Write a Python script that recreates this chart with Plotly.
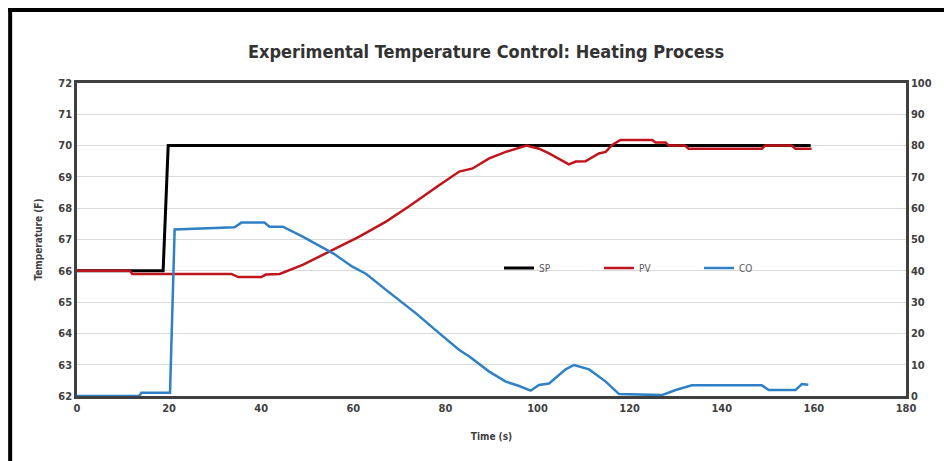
import plotly.graph_objects as go

# ---- data ----
t_sp = [0, 18.7, 19.8, 159.3]
sp = [66, 66, 70, 70]

t_pv = [0, 11.5, 12, 33.5, 35, 40, 41, 44, 49, 52.6, 56.3, 61.3, 67.1, 72.2, 78.7, 83, 85.9,
        89.5, 93.1, 96.7, 97.6, 100.3, 102.5, 106.8, 108.3, 110.4, 113.3, 114.8, 116.2, 118,
        124.9, 125.6, 127.8, 128.5, 132, 132.8, 148.7, 149.4, 155.2, 156, 159.5]
pv = [66, 66, 65.9, 65.9, 65.8, 65.8, 65.88, 65.9, 66.19, 66.45, 66.72, 67.09, 67.57, 68.07,
      68.74, 69.17, 69.27, 69.59, 69.8, 69.97, 70.0, 69.9, 69.75, 69.4, 69.49, 69.5, 69.75,
      69.8, 70.02, 70.18, 70.18, 70.1, 70.1, 70.0, 70.0, 69.9, 69.9, 70.0, 70.0, 69.9, 69.9]

t_co = [0, 13.5, 14, 20.2, 21.2, 34.2, 35.7, 40.7, 41.8, 44.7, 49, 52.6, 55.7, 59.8, 62.8,
        67.1, 73.6, 78.7, 83, 85.2, 89.5, 93.1, 96, 98.5, 100.3, 102.5, 106.1, 107.9, 111.2,
        114.8, 117.7, 127, 130, 133.5, 148.7, 150.2, 156, 157.4, 158.8]
co = [0, 0, 1, 1, 53.2, 53.9, 55.4, 55.4, 54.1, 54.1, 50.9, 47.9, 45.5, 41.3, 39, 33.9, 26.4,
      20, 14.7, 12.6, 7.8, 4.6, 3.2, 1.7, 3.5, 4, 8.5, 9.9, 8.5, 4.6, 0.6, 0.3, 1.9, 3.4, 3.4,
      1.9, 1.9, 3.8, 3.6]

x_ticks = [0, 20, 40, 60, 80, 100, 120, 140, 160, 180]

FONT = "DejaVu Sans Condensed, DejaVu Sans, sans-serif"
W, H = 944, 461
L, R, T, B = 77, 908, 83, 396

fig = go.Figure()
fig.add_trace(go.Scatter(x=t_sp, y=sp, name="SP", mode="lines",
                         line=dict(color="#000000", width=3)))
fig.add_trace(go.Scatter(x=t_pv, y=pv, name="PV", mode="lines",
                         line=dict(color="#C0141C", width=2.5)))
fig.add_trace(go.Scatter(x=t_co, y=co, name="CO", mode="lines", yaxis="y2",
                         line=dict(color="#2F80C4", width=2.5)))

def px(x):
    return (x - L) / (R - L)

def py(y):
    return (B - y) / (B - T)

axis_font = dict(family=FONT, size=11, color="#404040", weight="bold")

fig.update_layout(
    width=W, height=H,
    margin=dict(l=L, r=W - R, t=T, b=H - B),
    paper_bgcolor="white", plot_bgcolor="white",
    title=dict(text="<b>Experimental Temperature Control: Heating Process</b>",
               xref="container", x=486 / W, xanchor="center", y=1 - 52 / H, yanchor="middle",
               font=dict(family=FONT, size=18, color="#333333")),
    xaxis=dict(range=[0, 180], tickvals=x_ticks, showgrid=False, zeroline=False,
               showline=True, mirror=True, linecolor="#404040", linewidth=2.5,
               ticks="", tickfont=axis_font,
               title=dict(text="<b>Time (s)</b>", font=dict(family=FONT, size=10, color="#404040"),
                          standoff=20)),
    yaxis=dict(range=[62, 72], dtick=1, showgrid=True, gridcolor="#D9D9D9", gridwidth=1,
               zeroline=False, showline=True, mirror=True, linecolor="#404040", linewidth=2.5,
               ticks="", tickfont=axis_font,
               title=dict(text="<b>Temperature (F)</b>", font=dict(family=FONT, size=10, color="#404040"),
                          standoff=14)),
    yaxis2=dict(range=[0, 100], dtick=10, overlaying="y", side="right", showgrid=False,
                zeroline=False, showline=True, linecolor="#404040", linewidth=2.5,
                ticks="", tickfont=axis_font),
    legend=dict(orientation="h", x=px(500), y=py(268), xanchor="left", yanchor="middle",
                bgcolor="rgba(0,0,0,0)", itemwidth=30, entrywidth=55,
                font=dict(family=FONT, size=10, color="#595959")),
    shapes=[
        dict(type="line", xref="paper", yref="paper", x0=px(10), x1=px(10), y0=py(8), y1=py(470),
             line=dict(color="black", width=4)),
        dict(type="line", xref="paper", yref="paper", x0=px(8), x1=px(960), y0=py(10), y1=py(10),
             line=dict(color="black", width=4)),
    ],
)

fig.write_html("out.html")
